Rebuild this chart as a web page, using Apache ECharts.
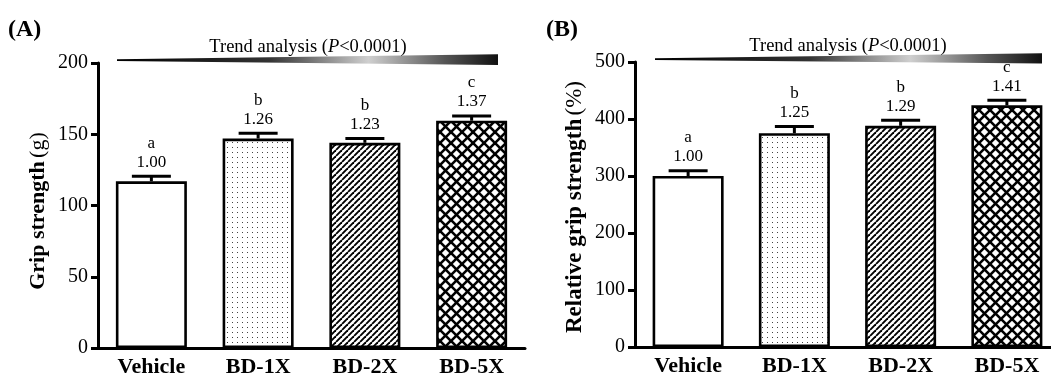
<!DOCTYPE html>
<html>
<head>
<meta charset="utf-8">
<script src="https://cdn.jsdelivr.net/npm/echarts@6/dist/echarts.min.js"></script>
<style>html,body{margin:0;padding:0;background:#fff}#c{width:1051px;height:374px}</style>
</head>
<body>
<div id="c"></div>
<script>
const categories = ['Vehicle', 'BD-1X', 'BD-2X', 'BD-5X'];
const gripMean = [117, 147, 144, 159.5];
const gripErr = [3.5, 3.7, 3, 3.3];
const gripRatio = ['1.00', '1.26', '1.23', '1.37'];
const gripLetter = ['a', 'b', 'b', 'c'];
const relMean = [300, 375, 388, 424];
const relErr = [9, 12, 10, 9];
const relRatio = ['1.00', '1.25', '1.29', '1.41'];
const relLetter = ['a', 'b', 'b', 'c'];
const gripTicks = [0, 50, 100, 150, 200];
const relTicks = [0, 100, 200, 300, 400, 500];

const FONT = "'Liberation Serif', 'Times New Roman', serif";

function makeTile(w, h, draw) {
  const c = document.createElement('canvas');
  c.width = w; c.height = h;
  const ctx = c.getContext('2d');
  ctx.fillStyle = '#fff';
  ctx.fillRect(0, 0, w, h);
  draw(ctx, w, h);
  return c;
}
const dotTile = makeTile(5, 5, (ctx) => { ctx.fillStyle = '#444'; ctx.fillRect(2, 2, 1, 1); });
const hatchTile = makeTile(6, 6, (ctx, w, h) => {
  ctx.strokeStyle = '#000'; ctx.lineWidth = 1.9;
  for (let k = -1; k <= 1; k++) {
    ctx.beginPath(); ctx.moveTo(k * w, h); ctx.lineTo(k * w + w, 0); ctx.stroke();
  }
});
const crossTile = makeTile(11, 11, (ctx, w, h) => {
  ctx.strokeStyle = '#000'; ctx.lineWidth = 2.6;
  for (let k = -1; k <= 1; k++) {
    ctx.beginPath(); ctx.moveTo(k * w, 0); ctx.lineTo(k * w + w, h); ctx.stroke();
    ctx.beginPath(); ctx.moveTo(k * w, h); ctx.lineTo(k * w + w, 0); ctx.stroke();
  }
});
const fills = ['#fff',
  { image: dotTile, repeat: 'repeat' },
  { image: hatchTile, repeat: 'repeat' },
  { image: crossTile, repeat: 'repeat' }];

function barData(vals) {
  return vals.map((v, i) => ({ value: v, itemStyle: { color: fills[i] } }));
}
function errData(mean, err, ratio, letter) {
  return mean.map((m, i) => [i, m, m + err[i], ratio[i], letter[i]]);
}
function renderErr(params, api) {
  const base = api.coord([api.value(0), api.value(1)]);
  const top = api.coord([api.value(0), api.value(2)]);
  const idx = params.dataIndex;
  const d = params.seriesIndex === 1 ? errA[idx] : errB[idx];
  const cap = 19.5;
  return {
    type: 'group',
    children: [
      { type: 'line', shape: { x1: base[0], y1: base[1], x2: top[0], y2: top[1] }, style: { stroke: '#000', lineWidth: 3 } },
      { type: 'line', shape: { x1: top[0] - cap, y1: top[1], x2: top[0] + cap, y2: top[1] }, style: { stroke: '#000', lineWidth: 3 } },
      { type: 'text', style: { text: d[3], x: top[0], y: top[1] - 14, align: 'center', verticalAlign: 'middle', font: '17px ' + FONT, fill: '#000' } },
      { type: 'text', style: { text: d[4], x: top[0], y: top[1] - 33, align: 'center', verticalAlign: 'middle', font: '17px ' + FONT, fill: '#000' } }
    ]
  };
}
const errA = errData(gripMean, gripErr, gripRatio, gripLetter);
const errB = errData(relMean, relErr, relRatio, relLetter);

function xAxis(gi) {
  return {
    type: 'category', gridIndex: gi, data: categories,
    axisLine: { lineStyle: { color: '#000', width: 3 } },
    axisTick: { show: false },
    axisLabel: { color: '#000', fontFamily: FONT, fontWeight: 'bold', fontSize: 22, margin: 8 }
  };
}
function yAxis(gi, max, interval) {
  return {
    type: 'value', gridIndex: gi, min: 0, max: max, interval: interval,
    splitLine: { show: false },
    axisLine: { show: true, lineStyle: { color: '#000', width: 3 } },
    axisTick: { show: true, length: 7, lineStyle: { color: '#000', width: 3 } },
    axisLabel: { color: '#000', fontFamily: FONT, fontSize: 20, margin: 10 }
  };
}
function mkGrad() {
  return new echarts.graphic.LinearGradient(0, 0, 1, 0, [
    { offset: 0, color: '#000' }, { offset: 0.4, color: '#333' },
    { offset: 0.66, color: '#cfcfcf' }, { offset: 0.86, color: '#555' }, { offset: 1, color: '#111' }]);
}
function trendText(cx, cy) {
  return {
    type: 'text', x: cx, y: cy,
    style: {
      text: '{n|Trend analysis (}{i|P}{n|<0.0001)}',
      align: 'center', verticalAlign: 'middle',
      rich: {
        n: { fontFamily: FONT, fontSize: 18.5, fill: '#000' },
        i: { fontFamily: FONT, fontSize: 18.5, fontStyle: 'italic', fill: '#000' }
      }
    }
  };
}
function yName(cx, cy, name, unit, size) {
  return {
    type: 'text', x: cx, y: cy, rotation: Math.PI / 2,
    style: {
      text: '{b|' + name + '} {r|' + unit + '}',
      align: 'center', verticalAlign: 'middle',
      rich: {
        b: { fontFamily: FONT, fontWeight: 'bold', fontSize: size, fill: '#000' },
        r: { fontFamily: FONT, fontSize: size, fill: '#000' }
      }
    }
  };
}

const chart = echarts.init(document.getElementById('c'), null, { renderer: 'canvas' });
chart.setOption({
  animation: false,
  backgroundColor: '#fff',
  grid: [
    { left: 98, top: 63, width: 427, height: 285, containLabel: false, outerBoundsMode: 'none' },
    { left: 635, top: 62, width: 425, height: 285, containLabel: false, outerBoundsMode: 'none' }
  ],
  xAxis: [xAxis(0), xAxis(1)],
  yAxis: [yAxis(0, 200, 50), yAxis(1, 500, 100)],
  series: [
    { type: 'bar', xAxisIndex: 0, yAxisIndex: 0, data: barData(gripMean), barWidth: 71,
      itemStyle: { borderColor: '#000', borderWidth: 2.6 }, z: 2 },
    { type: 'custom', xAxisIndex: 0, yAxisIndex: 0, data: errA.map(d => [d[0], d[1], d[2]]), renderItem: renderErr, z: 3 },
    { type: 'bar', xAxisIndex: 1, yAxisIndex: 1, data: barData(relMean), barWidth: 71,
      itemStyle: { borderColor: '#000', borderWidth: 2.6 }, z: 2 },
    { type: 'custom', xAxisIndex: 1, yAxisIndex: 1, data: errB.map(d => [d[0], d[1], d[2]]), renderItem: renderErr, z: 3 }
  ],
  graphic: [
    { type: 'text', left: 8, top: 18, style: { text: '(A)', font: 'bold 24px ' + FONT, fill: '#000' } },
    { type: 'text', left: 546, top: 18, style: { text: '(B)', font: 'bold 24px ' + FONT, fill: '#000' } },
    { type: 'polygon', shape: { points: [[117, 59.3], [498, 54.3], [498, 65], [117, 61]] }, style: { fill: mkGrad() } },
    { type: 'polygon', shape: { points: [[655, 58.3], [1042, 53.3], [1042, 63.5], [655, 60]] }, style: { fill: mkGrad() } },
    trendText(308, 47),
    trendText(848, 46),
    yName(38, 211, 'Grip strength', '(g)', 22),
    yName(575, 207, 'Relative grip strength', '(%)', 23)
  ]
});
</script>
</body>
</html>
